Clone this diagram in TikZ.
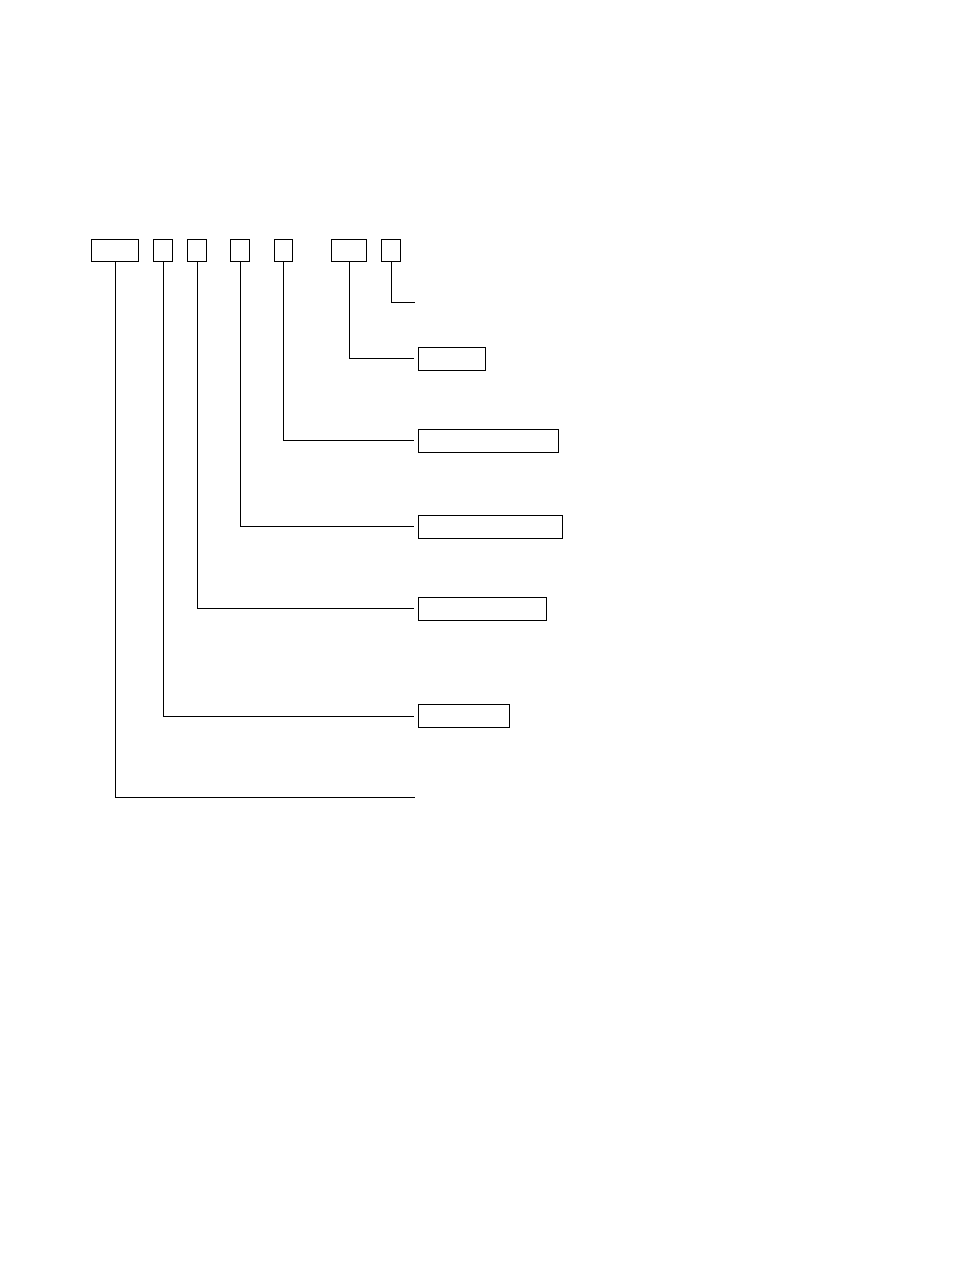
\documentclass[tikz,border=0pt]{standalone}
\begin{document}
\begin{tikzpicture}[x=1pt,y=-1pt,
  box/.style={draw, line width=1pt, inner sep=0pt, rectangle, minimum height=22pt},
  rbox/.style={draw, line width=1pt, inner sep=0pt, rectangle, minimum height=23pt},
  conn/.style={line width=1pt}]
\useasboundingbox (0,0) rectangle (954,1274);
% top row
\node[box, minimum width=47pt] (t1) at (115,250.3) {};
\node[box, minimum width=19pt] (t2) at (163,250.3) {};
\node[box, minimum width=19pt] (t3) at (197,250.3) {};
\node[box, minimum width=19pt] (t4) at (240,250.3) {};
\node[box, minimum width=18pt] (t5) at (283,250.3) {};
\node[box, minimum width=35pt] (t6) at (349,250.3) {};
\node[box, minimum width=19pt] (t7) at (391,250.3) {};
% right column
\node[rbox, minimum width=67.4pt] (rA) at (452,358.8) {};
\node[rbox, minimum width=140pt] (rB) at (488.3,440.8) {};
\node[rbox, minimum width=144.4pt] (rC) at (490.5,526.8) {};
\node[rbox, minimum width=128.4pt] (rD) at (482.5,608.8) {};
\node[rbox, minimum width=91.4pt] (rE) at (464,716.2) {};
% free ends
\coordinate (e7) at (415,302.3);
\coordinate (e1) at (415,797);
% connectors
\draw[conn] (t7.south) |- (e7);
\draw[conn] (t6.south) |- ([xshift=-3.5pt]rA.west);
\draw[conn] (t5.south) |- ([xshift=-3.5pt]rB.west);
\draw[conn] (t4.south) |- ([xshift=-3.5pt]rC.west);
\draw[conn] (t3.south) |- ([xshift=-3.5pt]rD.west);
\draw[conn] (t2.south) |- ([xshift=-3.5pt]rE.west);
\draw[conn] (t1.south) |- (e1);
\end{tikzpicture}
\end{document}
